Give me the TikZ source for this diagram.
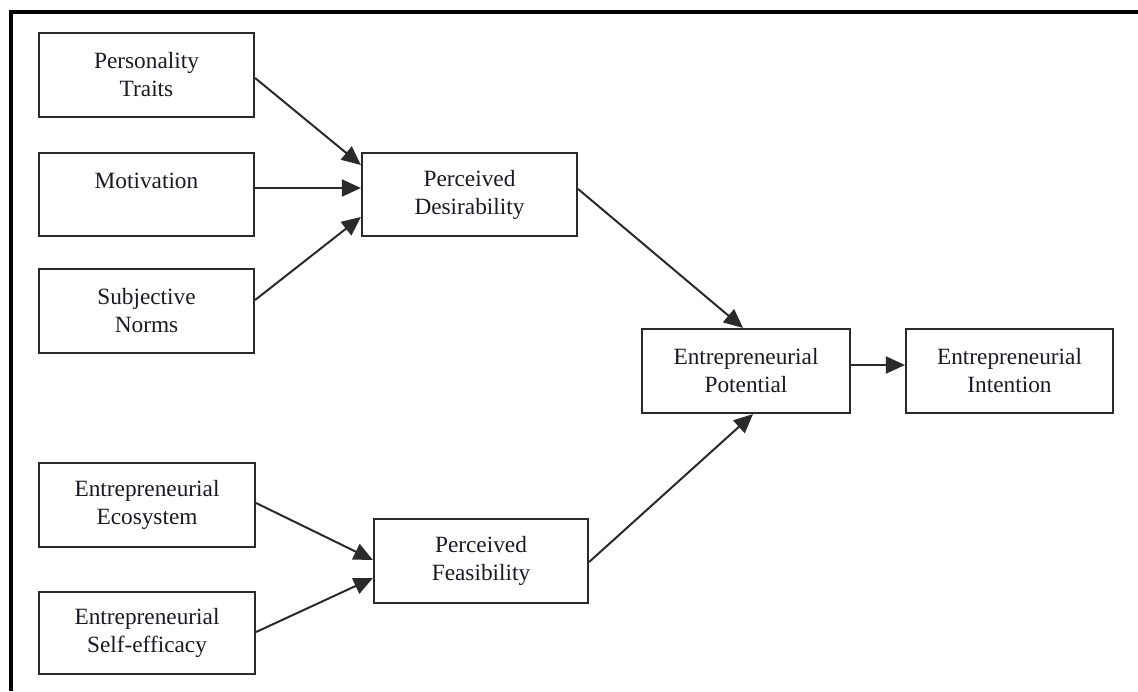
\documentclass[tikz,border=0pt]{standalone}
\usepackage{fontspec}
\setmainfont{Liberation Serif}
\usetikzlibrary{arrows.meta}
\definecolor{ink}{HTML}{2A2A2A}
\definecolor{txt}{HTML}{1A1A24}
\begin{document}
\begin{tikzpicture}[x=1pt,y=-1pt,
  box/.style={draw=ink,line width=2.2pt,fill=white,align=center,text=txt,
    font=\fontsize{23.3}{28}\selectfont,inner sep=0pt,minimum height=84pt},
  conn/.style={draw=ink,line width=2pt,-{Triangle[length=19pt,width=17pt]}}]
\useasboundingbox (0,0) rectangle (1138,691);
\fill[white] (0,0) rectangle (1138,691);
% outer frame (top and left)
\draw[black,line width=4pt] (8.5,11.5) -- (1138,11.5);
\draw[black,line width=4pt] (10.5,9.5) -- (10.5,691);
% nodes
\node[box,minimum width=215pt] (pt) at (146.5,75) {Personality\\Traits};
\node[box,minimum width=215pt,minimum height=83pt] (mot) at (146.5,194.5) {Motivation\\\phantom{Traits}};
\node[box,minimum width=215pt] (sn) at (146.5,311) {Subjective\\Norms};
\node[box,minimum width=216pt] (ee) at (147,505) {Entrepreneurial\\Ecosystem};
\node[box,minimum width=216pt,minimum height=82pt] (se) at (147,633) {Entrepreneurial\\Self-efficacy};
\node[box,minimum width=215pt,minimum height=83pt] (pd) at (469.5,194.5) {Perceived\\Desirability};
\node[box,minimum width=214pt] (pf) at (481,561) {Perceived\\Feasibility};
\node[box,minimum width=208pt] (ep) at (746,371) {Entrepreneurial\\Potential};
\node[box,minimum width=207pt] (ei) at (1009.5,371) {Entrepreneurial\\Intention};
% connectors
\draw[conn] ([yshift=-3pt]pt.east) -- ([yshift=29.5pt]pd.west);
\draw[conn] ([yshift=6.5pt]mot.east) -- ([yshift=6.5pt]pd.west);
\draw[conn] ([yshift=11pt]sn.east) -- ([yshift=-22.5pt]pd.west);
\draw[conn] ([yshift=5.5pt]pd.east) -- ([xshift=-3pt]ep.north);
\draw[conn] ([yshift=2pt]ee.east) -- ([yshift=1pt]pf.west);
\draw[conn] ([yshift=1pt]se.east) -- ([yshift=-17pt]pf.west);
\draw[conn] ([yshift=-1pt]pf.east) -- ([xshift=7pt]ep.south);
\draw[conn] ([yshift=6pt]ep.east) -- ([yshift=6pt]ei.west);
\end{tikzpicture}
\end{document}
